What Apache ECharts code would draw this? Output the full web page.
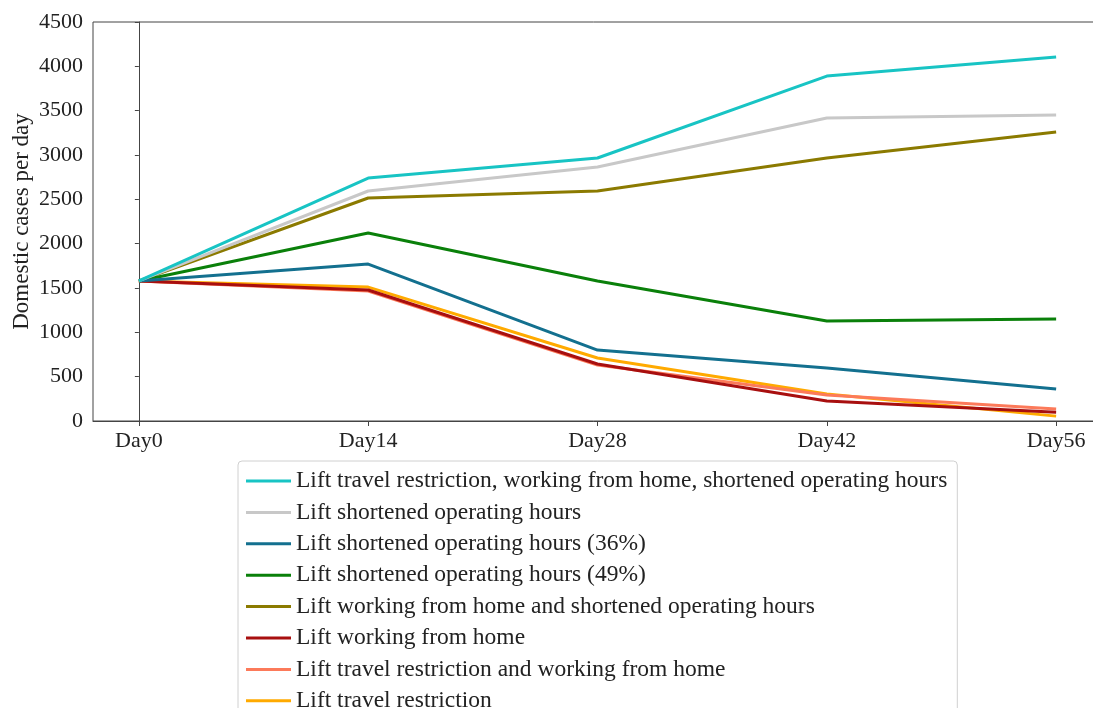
<!DOCTYPE html>
<html>
<head>
<meta charset="utf-8">
<script src="https://cdn.jsdelivr.net/npm/echarts@6/dist/echarts.min.js"></script>
<style>
  html, body { margin: 0; padding: 0; background: #fff; }
  #chart { width: 1093px; height: 708px; }
</style>
</head>
<body>
<div id="chart"></div>
<script>
// Time points on the horizontal axis
const days = ['Day0', 'Day14', 'Day28', 'Day42', 'Day56'];

// Y axis ticks
const yTicks = [0, 500, 1000, 1500, 2000, 2500, 3000, 3500, 4000, 4500];

// Scenario names (legend order)
const scenarioNames = [
  'Lift travel restriction, working from home, shortened operating hours',
  'Lift shortened operating hours',
  'Lift shortened operating hours (36%)',
  'Lift shortened operating hours (49%)',
  'Lift working from home and shortened operating hours',
  'Lift working from home',
  'Lift travel restriction and working from home',
  'Lift travel restriction'
];

// Domestic cases per day for each scenario
const allLifted      = [1580, 2740, 2966, 3890, 4105];
const shortHours     = [1580, 2594, 2865, 3417, 3451];
const shortHours36   = [1580, 1770,  800,  598,  360];
const shortHours49   = [1580, 2120, 1580, 1128, 1150];
const wfhShortHours  = [1580, 2515, 2594, 2966, 3259];
const wfh            = [1580, 1477,  643,  225,  100];
const travelWfh      = [1580, 1466,  632,  293,  135];
const travel         = [1580, 1510,  710,  305,   55];

const seriesValues = [allLifted, shortHours, shortHours36, shortHours49,
                      wfhShortHours, wfh, travelWfh, travel];

const colors = ['#18c4c4', '#c8c8c8', '#13708f', '#0a800a',
                '#8b7a00', '#a80f0f', '#fc7a5a', '#ffaa00'];

const font = '"Liberation Serif", "DejaVu Serif", serif';

const chart = echarts.init(document.getElementById('chart'), null, { renderer: 'canvas' });

const series = scenarioNames.map((name, i) => ({
  name: name,
  type: 'line',
  data: seriesValues[i].map((v, j) => [j, v]),
  showSymbol: false,
  symbol: 'none',
  lineStyle: { width: 3, color: colors[i] },
  itemStyle: { color: colors[i] },
  z: 10 - i * 0.1,
  animation: false
}));

chart.setOption({
  animation: false,
  backgroundColor: '#fff',
  textStyle: { fontFamily: font },
  grid: {
    left: 93, top: 22, height: 399, width: 1009,
    outerBoundsMode: 'none',
    containLabel: false,
    show: true, borderColor: '#444', borderWidth: 1, backgroundColor: 'transparent'
  },
  xAxis: {
    type: 'value',
    min: -0.2,
    max: 4.2,
    splitLine: { show: false },
    axisLine: { show: true, onZero: false, lineStyle: { color: '#444', width: 1 } },
    axisTick: {
      show: true, length: 5, inside: false,
      customValues: days.map((d, i) => i),
      lineStyle: { color: '#444' }
    },
    axisLabel: {
      customValues: days.map((d, i) => i),
      formatter: v => days[Math.round(v)],
      color: '#222', fontSize: 22, fontFamily: font, margin: 9
    }
  },
  yAxis: {
    type: 'value',
    min: yTicks[0],
    max: yTicks[yTicks.length - 1],
    interval: 500,
    name: 'Domestic cases per day',
    nameLocation: 'middle',
    nameGap: 60,
    nameMoveOverlap: false,
    nameTextStyle: { color: '#222', fontSize: 23, fontFamily: font },
    splitLine: { show: false },
    axisLine: { show: true, lineStyle: { color: '#444', width: 1 } },
    axisTick: { show: true, length: 4, lineStyle: { color: '#444' } },
    axisLabel: {
      formatter: v => String(v),
      color: '#222', fontSize: 22, fontFamily: font, margin: 10
    }
  },
  legend: {
    orient: 'vertical',
    left: 238,
    top: 461,
    height: 300,
    data: scenarioNames,
    icon: 'rect',
    itemWidth: 45,
    itemHeight: 3,
    itemGap: 7.4,
    padding: [8, 10, 10, 8],
    borderColor: '#d0d0d0',
    borderWidth: 1,
    borderRadius: 4,
    backgroundColor: '#fff',
    textStyle: { color: '#222', fontSize: 23.5, fontFamily: font }
  },
  series: series
});
</script>
</body>
</html>
